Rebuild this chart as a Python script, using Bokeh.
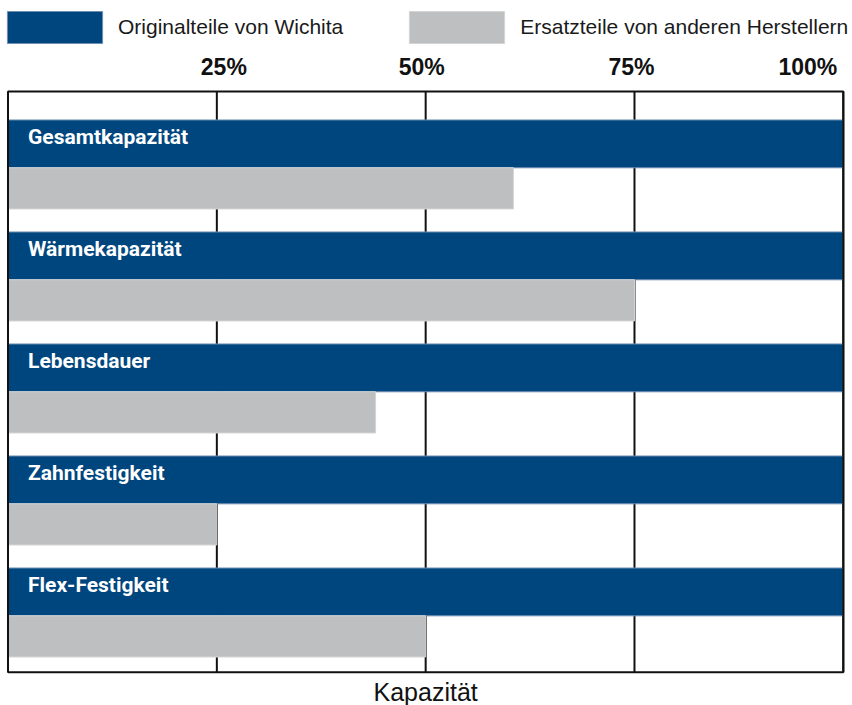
from bokeh.plotting import figure
from bokeh.models import Range1d, ColumnDataSource, Legend, LegendItem, LabelSet
from bokeh.core.properties import field, value
from bokeh.embed import file_html
from bokeh.resources import INLINE

# ---------------- data ----------------
categories = ["Gesamtkapazität", "Wärmekapazität", "Lebensdauer",
              "Zahnfestigkeit", "Flex-Festigkeit"]
original = [100, 100, 100, 100, 100]          # Originalteile von Wichita (%)
replacement = [60.5, 75, 44, 25, 50]          # Ersatzteile von anderen Herstellern (%)
tick_values = [25, 50, 75, 100]
tick_labels = ["25%", "50%", "75%", "100%"]
series_names = ["Originalteile von Wichita", "Ersatzteile von anderen Herstellern"]
axis_title = "Kapazität"

# ---------------- style ----------------
BLUE = "#00467E"
BLUE_EDGE = "#6f8fb3"
GRAY = "#BEBFC1"
GRAY_EDGE = "#d3d4d5"
INK = "#111111"
FONT = "Liberation Sans"
CAT_FONT = "Roboto"

X_MIN, X_MAX = 0, 100
n = len(categories)
box_top = -0.652            # padding above first category (in category units)
box_bottom = n - 1 + 0.533  # padding below last category

idx = list(range(n))
src = ColumnDataSource(dict(
    cat=categories,
    orig=original,
    repl=replacement,
    zero=[X_MIN] * n,
    y_orig=[i - 0.184 for i in idx],
    y_repl=[i + 0.213 for i in idx],
    y_label=[i - 0.397 for i in idx],
))

p = figure(width=852, height=705,
           x_range=Range1d(-0.9, 101.1), y_range=Range1d(n - 1 + 0.830, -1.464),
           x_axis_location=None, y_axis_location=None,
           toolbar_location=None, output_backend="svg",
           min_border=0)
p.grid.visible = False
p.outline_line_color = None
p.background_fill_color = "white"
p.border_fill_color = "white"

# vertical grid lines inside the box
grid_src = ColumnDataSource(dict(x=tick_values,
                                 y0=[box_top] * len(tick_values),
                                 y1=[box_bottom] * len(tick_values)))
p.segment(x0="x", x1="x", y0="y0", y1="y1", source=grid_src,
          line_color=INK, line_width=2)

r_orig = p.hbar(y="y_orig", left="zero", right="orig", height=0.427, source=src,
                fill_color=BLUE, line_color=BLUE_EDGE, line_width=1)
r_repl = p.hbar(y="y_repl", left="zero", right="repl", height=0.368, source=src,
                fill_color=GRAY, line_color=GRAY_EDGE, line_width=1)

# chart box
p.quad(left=[X_MIN], right=[X_MAX], top=[box_top], bottom=[box_bottom],
       fill_color=None, line_color=INK, line_width=2)

# category labels inside the blue bars
p.add_layout(LabelSet(x="zero", y="y_label", text="cat", source=src,
                      x_offset=20, y_offset=-24, text_baseline="alphabetic",
                      text_color="white", text_font=value(CAT_FONT),
                      text_font_style="bold", text_font_size="21px"))

# percentage labels above the box
top_src = ColumnDataSource(dict(
    x=tick_values,
    y=[box_top] * len(tick_values),
    text=tick_labels,
    align=["center", "center", "center", "right"],
    xo=[7, -4, -3, -6],
))
p.add_layout(LabelSet(x="x", y="y", text="text", source=top_src,
                      text_align=field("align"), x_offset="xo", y_offset=16.5,
                      text_baseline="alphabetic", text_color=INK,
                      text_font=value(FONT), text_font_style="bold",
                      text_font_size="23px"))

# axis title below the box
title_src = ColumnDataSource(dict(x=[(X_MIN + X_MAX) / 2], y=[box_bottom],
                                  text=[axis_title]))
p.add_layout(LabelSet(x="x", y="y", text="text", source=title_src,
                      y_offset=-29, text_align="center", text_baseline="alphabetic",
                      text_color=INK, text_font=value(FONT), text_font_size="25px"))

legend = Legend(items=[LegendItem(label=series_names[0], renderers=[r_orig]),
                       LegendItem(label=series_names[1], renderers=[r_repl])],
                orientation="horizontal", location=(-5, 658),
                glyph_width=119, glyph_height=40, label_standoff=4, spacing=54,
                padding=0, margin=0, border_line_color=None,
                background_fill_alpha=0,
                label_text_font=FONT, label_text_font_size="21px",
                label_text_color="#1a1a1a")
p.add_layout(legend)

open("out.html", "w").write(file_html(p, INLINE))
